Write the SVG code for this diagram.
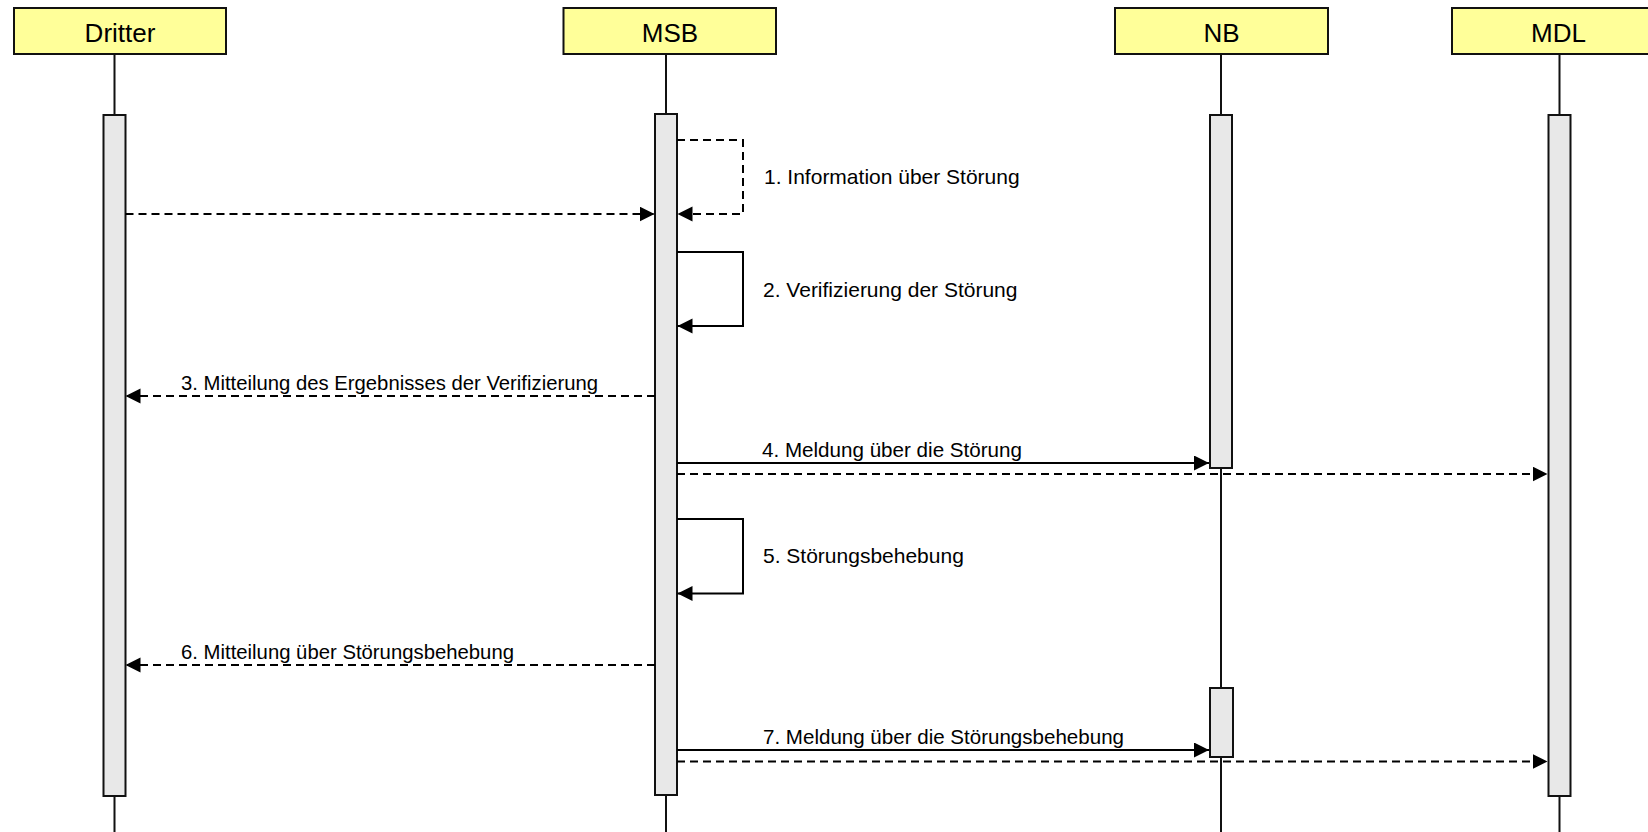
<svg xmlns="http://www.w3.org/2000/svg" width="1648" height="832" viewBox="0 0 1648 832">
<style>
.hdr{fill:#FFFF99;stroke:#111;stroke-width:2}
.ht{font-family:"Liberation Sans",Arial,sans-serif;font-size:26px;fill:#000;text-anchor:middle}
.life{stroke:#111;stroke-width:2;fill:none}
.bar{fill:#E8E8E8;stroke:#111;stroke-width:2}
.msg{stroke:#000;stroke-width:2;fill:none;marker-end:url(#ah)}
.dash{stroke-dasharray:8 5}
.lbl{font-family:"Liberation Sans",Arial,sans-serif;font-size:21px;fill:#000}
</style>
<defs>
<marker id="ah" markerUnits="userSpaceOnUse" markerWidth="16" markerHeight="16" refX="15" refY="7.5" orient="auto">
<path d="M0,0 L15,7.5 L0,15 Z" fill="#000"/>
</marker>
</defs>
<rect width="1648" height="832" fill="#fff"/>
<g id="Dritter">
<line class="life" x1="114.5" y1="54" x2="114.5" y2="832"/>
<rect class="hdr" x="14" y="8" width="212" height="46"/>
<text class="ht" x="120" y="42">Dritter</text>
<rect class="bar" x="103.5" y="115" width="22" height="681"/>
</g>
<g id="MSB">
<line class="life" x1="666" y1="54" x2="666" y2="832"/>
<rect class="hdr" x="563.5" y="8" width="212.5" height="46"/>
<text class="ht" x="670" y="42">MSB</text>
<rect class="bar" x="655" y="114" width="22" height="681"/>
</g>
<g id="NB">
<line class="life" x1="1221" y1="54" x2="1221" y2="832"/>
<rect class="hdr" x="1115" y="8" width="213" height="46"/>
<text class="ht" x="1221.5" y="42">NB</text>
<rect class="bar" x="1210" y="115" width="22" height="353"/>
<rect class="bar" x="1210" y="688" width="23" height="69"/>
</g>
<g id="MDL">
<line class="life" x1="1559.5" y1="54" x2="1559.5" y2="832"/>
<rect class="hdr" x="1452" y="8" width="213" height="46"/>
<text class="ht" x="1558.5" y="42">MDL</text>
<rect class="bar" x="1548.5" y="115" width="22" height="681"/>
</g>
<g id="connectors">
<polyline class="msg dash" points="677,140 743,140 743,214 677.5,214"/>
<text class="lbl" x="764" y="184">1. Information über Störung</text>
<line class="msg dash" x1="125.5" y1="214" x2="654.5" y2="214"/>
<polyline class="msg" points="677,252 743,252 743,326 677.5,326"/>
<text class="lbl" x="763" y="297">2. Verifizierung der Störung</text>
<line class="msg dash" x1="655" y1="396" x2="125.5" y2="396"/>
<text class="lbl" x="181" y="390" textLength="417" lengthAdjust="spacingAndGlyphs">3. Mitteilung des Ergebnisses der Verifizierung</text>
<line class="msg" x1="677" y1="463" x2="1209" y2="463"/>
<text class="lbl" x="762" y="457" textLength="260" lengthAdjust="spacingAndGlyphs">4. Meldung über die Störung</text>
<line class="msg dash" x1="677" y1="474" x2="1547.5" y2="474"/>
<polyline class="msg" points="677,519 743,519 743,593.5 677.5,593.5"/>
<text class="lbl" x="763" y="563">5. Störungsbehebung</text>
<line class="msg dash" x1="655" y1="665" x2="125.5" y2="665"/>
<text class="lbl" x="181" y="659" textLength="333" lengthAdjust="spacingAndGlyphs">6. Mitteilung über Störungsbehebung</text>
<line class="msg" x1="677" y1="750" x2="1209" y2="750"/>
<text class="lbl" x="763" y="744" textLength="361" lengthAdjust="spacingAndGlyphs">7. Meldung über die Störungsbehebung</text>
<line class="msg dash" x1="677" y1="761.5" x2="1547.5" y2="761.5"/>
</g>
</svg>
